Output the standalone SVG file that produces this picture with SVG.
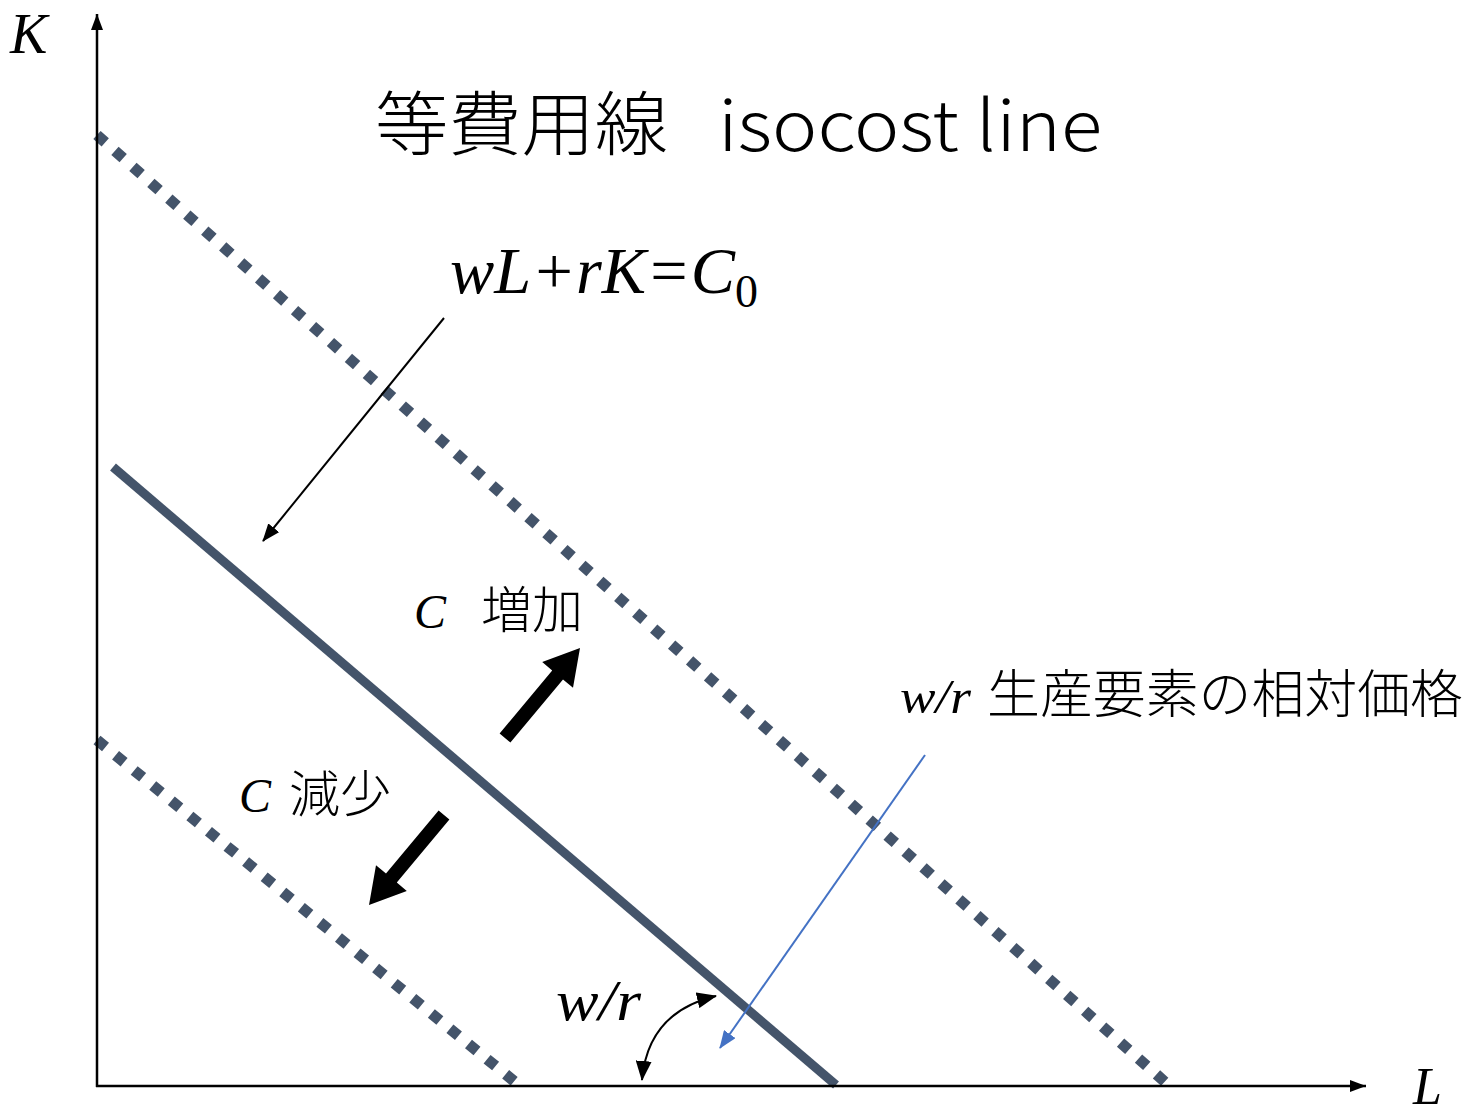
<svg xmlns="http://www.w3.org/2000/svg" width="1470" height="1114" viewBox="0 0 1470 1114">
<style>
.ax{stroke:#000;stroke-width:2.5;fill:none}
.dot{stroke:#44546A;stroke-width:11;fill:none;stroke-dasharray:11 13}
.solid{stroke:#44546A;stroke-width:9;fill:none}
.it{font-family:"Liberation Serif",serif;font-style:italic;fill:#000}
.jp{font-family:"Noto Sans CJK JP",sans-serif;font-weight:300;fill:#000}
.thin{stroke:#000;stroke-width:2;fill:none}
</style>
<defs>
<marker id="axh" viewBox="0 0 16 12" refX="16" refY="6" markerWidth="16" markerHeight="12" orient="auto" markerUnits="userSpaceOnUse">
<path d="M0,0 L16,6 L0,12 z" fill="#000"/>
</marker>
<marker id="th" viewBox="0 0 18 14" refX="17" refY="7" markerWidth="18" markerHeight="14" orient="auto-start-reverse" markerUnits="userSpaceOnUse">
<path d="M0,0 L18,7 L0,14 z" fill="#000"/>
</marker>
<marker id="ch" viewBox="0 0 20 16" refX="19" refY="8" markerWidth="20" markerHeight="16" orient="auto-start-reverse" markerUnits="userSpaceOnUse">
<path d="M0,0 L20,8 L0,16 z" fill="#000"/>
</marker>
<marker id="bh" viewBox="0 0 18 14" refX="17" refY="7" markerWidth="18" markerHeight="14" orient="auto" markerUnits="userSpaceOnUse">
<path d="M0,0 L18,7 L0,14 z" fill="#4472C4"/>
</marker>
</defs>
<rect width="1470" height="1114" fill="#fff"/>
<g id="connectors">
<line id="upper-line" class="dot" x1="97" y1="135" x2="1165" y2="1082"/>
<line id="lower-line" class="dot" x1="97" y1="740" x2="515" y2="1082"/>
<line id="isocost" class="solid" x1="113" y1="467" x2="836" y2="1085"/>
<line class="ax" x1="97" y1="1087" x2="97" y2="14" marker-end="url(#axh)"/>
<line class="ax" x1="96" y1="1086" x2="1366" y2="1086" marker-end="url(#axh)"/>
<line class="thin" x1="444" y1="318" x2="263" y2="541" marker-end="url(#th)"/>
<line stroke="#4472C4" stroke-width="2" x1="925" y1="755" x2="720" y2="1048" marker-end="url(#bh)"/>
<path class="thin" d="M642,1080 Q648,1012 716,996" marker-start="url(#ch)" marker-end="url(#ch)"/>
<polygon fill="#000" points="499.6,733.5 552.2,670.4 542.2,662.1 580,648 573,687.7 563,679.4 510.4,742.5"/>
<polygon fill="#000" points="449.4,819.5 396.8,882.6 406.8,890.9 369,905 376,865.3 386,873.6 438.6,810.5"/>
</g>
<g id="axis-labels">
<text class="it" x="10" y="53" font-size="56">K</text>
<text class="it" x="1413" y="1104" font-size="52">L</text>
</g>
<g id="title">
<text class="jp" x="375" y="150" font-size="70" textLength="293" lengthAdjust="spacingAndGlyphs">等費用線</text>
<text class="jp" x="718" y="151" font-size="70" textLength="384" lengthAdjust="spacingAndGlyphs">isocost line</text>
</g>
<g id="equation">
<text class="it" x="450" y="293" font-size="66"><tspan textLength="285" lengthAdjust="spacingAndGlyphs">wL+rK=C</tspan><tspan font-style="normal" font-size="46" dy="14">0</tspan></text>
</g>
<g id="increase">
<text class="it" x="414" y="628" font-size="48">C</text>
<text class="jp" x="481" y="628" font-size="50" textLength="102" lengthAdjust="spacingAndGlyphs">増加</text>
</g>
<g id="decrease">
<text class="it" x="239" y="812" font-size="48">C</text>
<text class="jp" x="289" y="812" font-size="50" textLength="102" lengthAdjust="spacingAndGlyphs">減少</text>
</g>
<g id="relative-price">
<text class="it" x="900" y="713" font-size="48" textLength="71" lengthAdjust="spacingAndGlyphs">w/r</text>
<text class="jp" x="987" y="713" font-size="52" textLength="476" lengthAdjust="spacingAndGlyphs">生産要素の相対価格</text>
</g>
<g id="slope-label">
<text class="it" x="556" y="1020" font-size="58" textLength="85" lengthAdjust="spacingAndGlyphs">w/r</text>
</g>
</svg>
